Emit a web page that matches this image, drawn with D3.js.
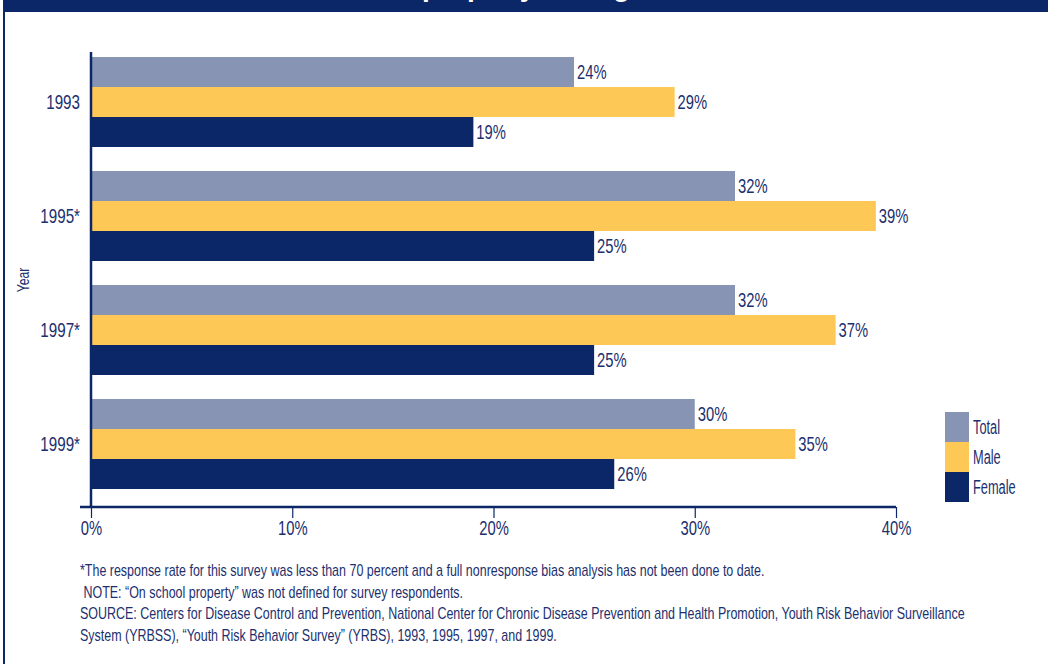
<!DOCTYPE html>
<html>
<head>
<meta charset="utf-8">
<script src="https://cdn.jsdelivr.net/npm/d3@7"></script>
<style>
  html, body { margin: 0; padding: 0; background: #fff; }
  svg { display: block; }
  text { font-family: "Liberation Sans", Arial, sans-serif; fill: #1c2f6e; }
</style>
</head>
<body>
<svg id="chart" width="1048" height="664"></svg>
<script>
// Survey years and percentages of students, by sex
const years = ["1993", "1995*", "1997*", "1999*"];
const seriesNames = ["Total", "Male", "Female"];
const totalValues = [24, 32, 32, 30];
const maleValues = [29, 39, 37, 35];
const femaleValues = [19, 25, 25, 26];
const xTicks = [0, 10, 20, 30, 40];
const seriesColors = ["#8794b4", "#fec857", "#0b2767"];
const titleTail = "property during";
const footnotes = [
  "*The response rate for this survey was less than 70 percent and a full nonresponse bias analysis has not been done to date.",
  " NOTE: \u201cOn school property\u201d was not defined for survey respondents.",
  "SOURCE: Centers for Disease Control and Prevention, National Center for Chronic Disease Prevention and Health Promotion, Youth Risk Behavior Surveillance",
  "System (YRBSS), \u201cYouth Risk Behavior Survey\u201d (YRBS), 1993, 1995, 1997, and 1999."
];

const navy = "#0b2767";
const textColor = "#1c2f6e";
const seriesValues = [totalValues, maleValues, femaleValues];
const rows = years.map((y, i) => ({
  year: y,
  values: seriesNames.map((s, j) => ({ series: s, value: seriesValues[j][i] }))
}));

// Narrow the lettering horizontally around each text's own anchor point
function condense(sel, sx) {
  sel.attr("transform", function () {
    const ax = +this.getAttribute("x") || 0;
    const ay = +this.getAttribute("y") || 0;
    return `translate(${ax},${ay}) scale(${sx},1) translate(${-ax},${-ay})`;
  });
}

const svg = d3.select("#chart");

// Page frame: left rule and header banner
svg.append("rect").attr("x", 3).attr("y", 0).attr("width", 2).attr("height", 664).attr("fill", navy);
svg.append("rect").attr("x", 3).attr("y", 0).attr("width", 1045).attr("height", 12).attr("fill", navy);
svg.append("text")
  .attr("x", 526).attr("y", -4)
  .attr("text-anchor", "middle")
  .attr("textLength", 208).attr("lengthAdjust", "spacingAndGlyphs")
  .style("font-size", "28px").style("font-weight", "bold").style("fill", "#fff")
  .text(titleTail);

// Scales
const x = d3.scaleLinear().domain([0, 40]).range([91, 896]);
const y = d3.scaleBand().domain(years).range([45, 501])
  .paddingInner(24 / 114).paddingOuter(12 / 114);
const ySub = d3.scaleBand().domain(seriesNames).range([0, y.bandwidth()]);
const color = d3.scaleOrdinal().domain(seriesNames).range(seriesColors);

// Bars
const groups = svg.append("g").selectAll("g").data(rows).join("g")
  .attr("transform", d => `translate(0,${y(d.year)})`);

groups.selectAll("rect").data(d => d.values).join("rect")
  .attr("x", x(0))
  .attr("y", d => ySub(d.series))
  .attr("width", d => x(d.value) - x(0))
  .attr("height", ySub.bandwidth())
  .attr("fill", d => color(d.series));

groups.selectAll("text").data(d => d.values).join("text")
  .attr("x", d => x(d.value) + 3)
  .attr("y", d => ySub(d.series) + ySub.bandwidth() / 2)
  .attr("dy", "0.36em")
  .style("font-size", "20px")
  .text(d => d.value + "%")
  .call(condense, 0.74);

// X axis
const xAxis = svg.append("g").attr("transform", "translate(0,507)")
  .call(d3.axisBottom(x).tickValues(xTicks).tickFormat(d => d + "%").tickSize(11).tickPadding(3));
xAxis.select(".domain").remove();
xAxis.append("line").attr("x1", 80).attr("x2", 896).attr("y1", 0).attr("y2", 0)
  .attr("stroke", navy).attr("stroke-width", 2.5);
xAxis.selectAll(".tick line").attr("stroke", navy).attr("stroke-width", 1.2);
xAxis.selectAll(".tick text").attr("fill", textColor)
  .style("font-size", "20px")
  .style("font-family", "\"Liberation Sans\", Arial, sans-serif")
  .call(condense, 0.74);

// Y axis
svg.append("line").attr("x1", 91).attr("x2", 91).attr("y1", 52).attr("y2", 508)
  .attr("stroke", navy).attr("stroke-width", 2.5);
svg.append("g").selectAll("text").data(years).join("text")
  .attr("x", 80)
  .attr("y", d => y(d) + y.bandwidth() / 2)
  .attr("dy", "0.36em")
  .attr("text-anchor", "end")
  .style("font-size", "20px")
  .text(d => d)
  .call(condense, 0.76);

svg.append("text")
  .attr("transform", "translate(29,280) rotate(-90) scale(0.72,1)")
  .attr("text-anchor", "middle")
  .style("font-size", "17px")
  .text("Year");

// Legend
const legend = svg.append("g").selectAll("g").data(seriesNames).join("g")
  .attr("transform", (d, i) => `translate(945,${412 + i * 30})`);
legend.append("rect").attr("width", 24).attr("height", 30).attr("fill", d => color(d));
legend.append("text").attr("x", 28).attr("y", 15).attr("dy", "0.36em")
  .style("font-size", "20px").text(d => d)
  .call(condense, 0.64);

// Footnotes
svg.append("g").selectAll("text").data(footnotes).join("text")
  .attr("x", 80)
  .attr("y", (d, i) => 576 + i * 21.7)
  .attr("xml:space", "preserve")
  .style("white-space", "pre")
  .style("font-size", "16px")
  .text(d => d)
  .call(condense, 0.78);
</script>
</body>
</html>
